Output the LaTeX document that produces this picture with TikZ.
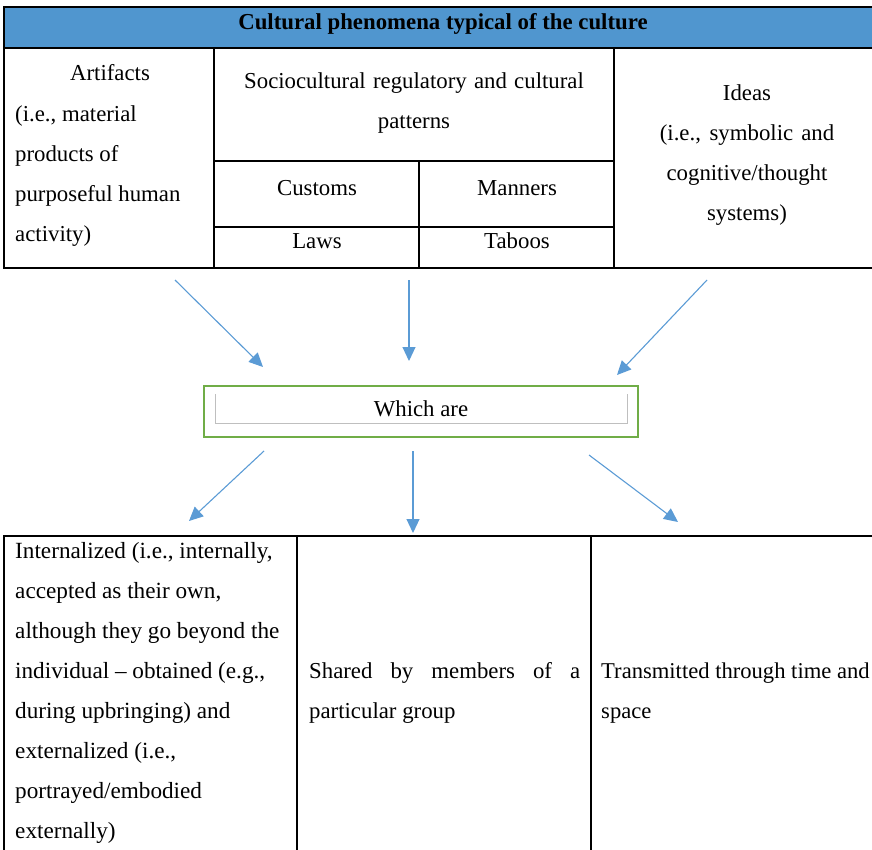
\documentclass[tikz,border=0pt]{standalone}
\usepackage{fontspec}
\setmainfont{Liberation Serif}
\usetikzlibrary{arrows.meta}
\definecolor{hdrblue}{HTML}{5096CF}
\definecolor{arrowblue}{HTML}{5B9BD5}
\definecolor{boxgreen}{HTML}{70AD47}
\definecolor{innergray}{HTML}{BFBFBF}
% use the font's own interword glue inside ragged nodes
\newcommand\plainspaces{\spaceskip=0pt\relax\xspaceskip=0pt\relax}
\begin{document}
\begin{tikzpicture}[x=1pt,y=-1pt,
  rule/.style={line width=1.3pt, black},
  cell/.style={inner sep=0pt, font=\fontsize{22.8}{40}\selectfont},
  flow/.style={arrowblue, line width=1.1pt, -{Triangle[length=14pt,width=13pt]}},
]
\useasboundingbox (0,0) rectangle (872,850);

% ---- upper table: cultural phenomena ----
\fill[hdrblue] (4,7) rectangle (872,48);
\draw[rule] (872,7) -- (4,7) -- (4,268) -- (872,268);
\draw[rule] (4,48) -- (872,48);
\draw[rule] (214,48) -- (214,268);
\draw[rule] (614,48) -- (614,268);
\draw[rule] (214,161) -- (614,161);
\draw[rule] (214,227) -- (614,227);
\draw[rule] (419,161) -- (419,268);

\node[cell, font=\fontsize{22.8}{40}\selectfont\bfseries, anchor=base] (title) at (443,30)
  {Cultural phenomena typical of the culture};
\node[cell, anchor=base] (artifacts) at (110,81) {Artifacts};
\node[cell, anchor=north west, text width=195pt, align=left] (artnote) at (15,93)
  {\plainspaces\strut(i.e., material\\products of\\purposeful human\\activity)};
\node[cell, anchor=north, text width=390pt, align=center] (patterns) at (414,60)
  {\plainspaces\strut Sociocultural regulatory and cultural\\patterns};
\node[cell, anchor=base] (customs) at (317,196) {Customs};
\node[cell, anchor=base] (manners) at (517,196) {Manners};
\node[cell, anchor=base] (laws) at (317,249) {Laws};
\node[cell, anchor=base] (taboos) at (517,249) {Taboos};
\node[cell, anchor=north, text width=250pt, align=center] (ideas) at (747,72)
  {\plainspaces\strut Ideas\\(i.e., symbolic and\\cognitive/thought\\systems)};

% ---- middle box ----
\node[draw=boxgreen, line width=2.4pt, minimum width=434pt, minimum height=51pt, inner sep=0pt] (whichbox) at (421,411.5) {};
\draw[innergray, line width=1pt] (215,394) -- (215,423) -- (627,423) -- (627,394);
\node[cell, anchor=base] (which) at (421,416) {Which are};

% ---- lower table: properties ----
\draw[rule] (872,536) -- (4,536) -- (4,850);
\draw[rule] (297,536) -- (297,850);
\draw[rule] (591,536) -- (591,850);

\node[cell, font=\fontsize{23.2}{40}\selectfont, anchor=north west, text width=282pt, align=left] (internal) at (15,530)
  {\plainspaces\strut Internalized (i.e., internally,\\accepted as their own,\\although they go beyond the\\individual – obtained (e.g.,\\during upbringing) and\\externalized (i.e.,\\portrayed/embodied\\externally)};
\node[cell, anchor=north west, text width=272pt, align=left] (shared) at (309,650)
  {\plainspaces\strut\makebox[271pt][s]{Shared by members of a}\\particular group};
\node[cell, font=\fontsize{22.6}{40}\selectfont, anchor=north west, text width=300pt, align=left] (transmit) at (601,650)
  {\plainspaces\strut Transmitted through time and\\space};

% ---- connectors ----
\coordinate (inA) at (175,280);  \coordinate (inAend) at (263,367);
\coordinate (inB) at (409,280);  \coordinate (inBend) at (409,361);
\coordinate (inC) at (707,280);  \coordinate (inCend) at (617,375);
\coordinate (outA) at (264,451); \coordinate (outAend) at (189,521);
\coordinate (outB) at (413,451); \coordinate (outBend) at (413,533);
\coordinate (outC) at (589,455); \coordinate (outCend) at (678,522);
\draw[flow] (inA) -- (inAend);
\draw[flow] (inB) -- (inBend);
\draw[flow] (inC) -- (inCend);
\draw[flow] (outA) -- (outAend);
\draw[flow] (outB) -- (outBend);
\draw[flow] (outC) -- (outCend);
\end{tikzpicture}
\end{document}
